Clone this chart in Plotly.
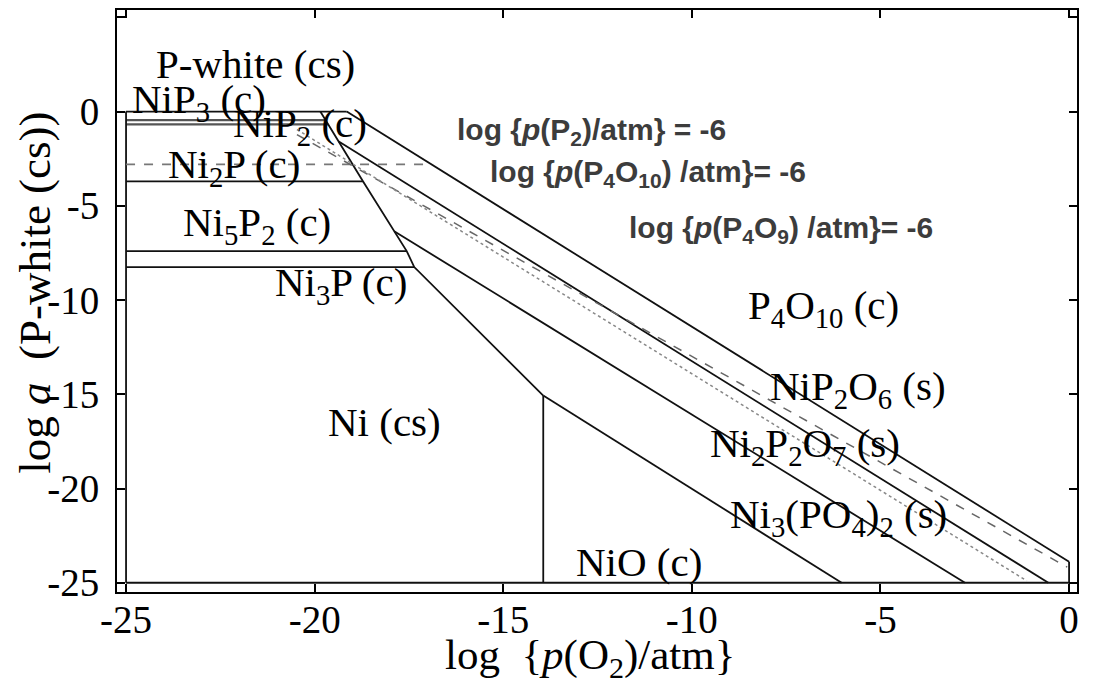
import plotly.graph_objects as go

# ---------------- data ----------------
# phase-boundary lines: log p(O2) (x) vs log a(P-white) (y)
top_x = [-25, -19.15];          top_y = [0, 0]
nip3_x = [-25, -19.71];         nip3_y = [-0.45, -0.45]
nip2_x = [-25, -19.65];         nip2_y = [-0.68, -0.68]
ni2p_x = [-25, -18.72];         ni2p_y = [-3.70, -3.70]
ni5p2_x = [-25, -17.56];        ni5p2_y = [-7.40, -7.40]
ni3p_x = [-25, -17.36];         ni3p_y = [-8.25, -8.25]
steep_x = [-19.85, -18.72, -17.56, -17.36, -13.94]
steep_y = [0, -3.70, -7.40, -8.25, -15.07]
lineA_x = [-19.15, 0];          lineA_y = [0, -23.89]
lineC_x = [-19.36, -0.55];      lineC_y = [-1.59, -25]
lineE_x = [-17.89, -2.76];      lineE_y = [-6.35, -25]
lineF_x = [-13.94, -6.03];      lineF_y = [-15.07, -25]
nio_x = [-13.94, -13.94];       nio_y = [-15.07, -25]
right_x = [0, 0];               right_y = [-23.89, -25]
left_x = [-25, -25];            left_y = [0, -25]
bottom_x = [-25, 0];            bottom_y = [-25, -25]
# isobars
p2_x = [-25, -17.0];            p2_y = [-2.80, -2.80]
dashB_x = [-20.47, -0.05];      dashB_y = [-1.22, -24.17]
dotD_x = [-20.47, -1.12];       dotD_y = [-0.95, -24.9]

x_ticks = [-25, -20, -15, -10, -5, 0]
y_ticks = [-25, -20, -15, -10, -5, 0, 5]

fig = go.Figure()

solid = [(top_x, top_y), (nip3_x, nip3_y), (nip2_x, nip2_y), (ni2p_x, ni2p_y),
         (ni5p2_x, ni5p2_y), (ni3p_x, ni3p_y), (steep_x, steep_y),
         (lineA_x, lineA_y), (lineC_x, lineC_y), (lineE_x, lineE_y),
         (lineF_x, lineF_y), (nio_x, nio_y), (right_x, right_y),
         (left_x, left_y), (bottom_x, bottom_y)]
for i, (xs, ys) in enumerate(solid):
    col = "#555555" if i in (1, 2) else "#111111"
    wid = 2.2 if i in (1, 2) else 1.8
    fig.add_trace(go.Scatter(x=xs, y=ys, mode="lines",
                             line=dict(color=col, width=wid),
                             showlegend=False, hoverinfo="skip"))

fig.add_trace(go.Scatter(x=p2_x, y=p2_y, mode="lines",
                         line=dict(color="#777777", width=1.6, dash="dash"),
                         showlegend=False, hoverinfo="skip"))
fig.add_trace(go.Scatter(x=dashB_x, y=dashB_y, mode="lines",
                         line=dict(color="#666666", width=1.5, dash="dash"),
                         showlegend=False, hoverinfo="skip"))
fig.add_trace(go.Scatter(x=dotD_x, y=dotD_y, mode="lines",
                         line=dict(color="#888888", width=1.5, dash="dot"),
                         showlegend=False, hoverinfo="skip"))

serif = "Liberation Serif, Times New Roman, serif"
sans = "Liberation Sans, Arial, sans-serif"

labels = [
    ("P-white (cs)", -21.58, 2.54),
    ("NiP<sub>3</sub> (c)", -23.06, 0.53),
    ("NiP<sub>2</sub> (c)", -20.39, -0.79),
    ("Ni<sub>2</sub>P (c)", -22.14, -2.96),
    ("Ni<sub>5</sub>P<sub>2</sub> (c)", -21.53, -6.03),
    ("Ni<sub>3</sub>P (c)", -19.30, -9.20),
    ("Ni (cs)", -18.16, -16.45),
    ("NiO (c)", -11.40, -23.90),
    ("P<sub>4</sub>O<sub>10</sub> (c)", -6.52, -10.42),
    ("NiP<sub>2</sub>O<sub>6</sub> (s)", -5.59, -14.70),
    ("Ni<sub>2</sub>P<sub>2</sub>O<sub>7</sub> (s)", -7.00, -17.72),
    ("Ni<sub>3</sub>(PO<sub>4</sub>)<sub>2</sub> (s)", -6.12, -21.52),
]
for txt, x, y in labels:
    fig.add_annotation(x=x, y=y, text=txt, showarrow=False,
                       font=dict(family=serif, size=41, color="black"),
                       xanchor="center", yanchor="middle")

iso_labels = [
    ("log {<i>p</i>(P<sub>2</sub>)/atm} = -6", -12.67, -1.06),
    ("log {<i>p</i>(P<sub>4</sub>O<sub>10</sub>) /atm}= -6", -11.16, -3.28),
    ("log {<i>p</i>(P<sub>4</sub>O<sub>9</sub>) /atm}= -6", -7.64, -6.24),
]
for txt, x, y in iso_labels:
    fig.add_annotation(x=x, y=y, text="<b>" + txt + "</b>", showarrow=False,
                       font=dict(family=sans, size=30, color="#3c3c3c"),
                       xanchor="center", yanchor="middle")

# axis titles
fig.add_annotation(xref="paper", yref="paper", x=0.4927, y=-0.113,
                   text="log  {<i>p</i>(O<sub>2</sub>)/atm}", showarrow=False,
                   font=dict(family=serif, size=43, color="black"),
                   xanchor="center", yanchor="middle")
fig.add_annotation(xref="paper", yref="paper", x=-0.0854, y=0.514,
                   text="log <i>a</i>  (P-white (cs))", showarrow=False,
                   textangle=-90,
                   font=dict(family=serif, size=45, color="black"),
                   xanchor="center", yanchor="middle")

axis_common = dict(showgrid=False, zeroline=False, showline=True,
                   linecolor="black", linewidth=2, mirror="ticks",
                   ticks="inside", ticklen=8, tickwidth=1.5, tickcolor="black",
                   tickfont=dict(family=serif, size=39, color="black"))

fig.update_layout(
    width=1102, height=685,
    margin=dict(l=117, r=25, t=8, b=93),
    paper_bgcolor="white", plot_bgcolor="white",
    xaxis=dict(range=[-25.24, 0.21], tickvals=x_ticks,
               ticktext=[str(v) for v in x_ticks],
               ticklabelstandoff=-8, **axis_common),
    yaxis=dict(range=[-25.49, 5.39], tickvals=y_ticks,
               ticktext=[str(v) for v in y_ticks],
               ticklabelstandoff=8, **axis_common),
)

fig.write_html("out.html")
